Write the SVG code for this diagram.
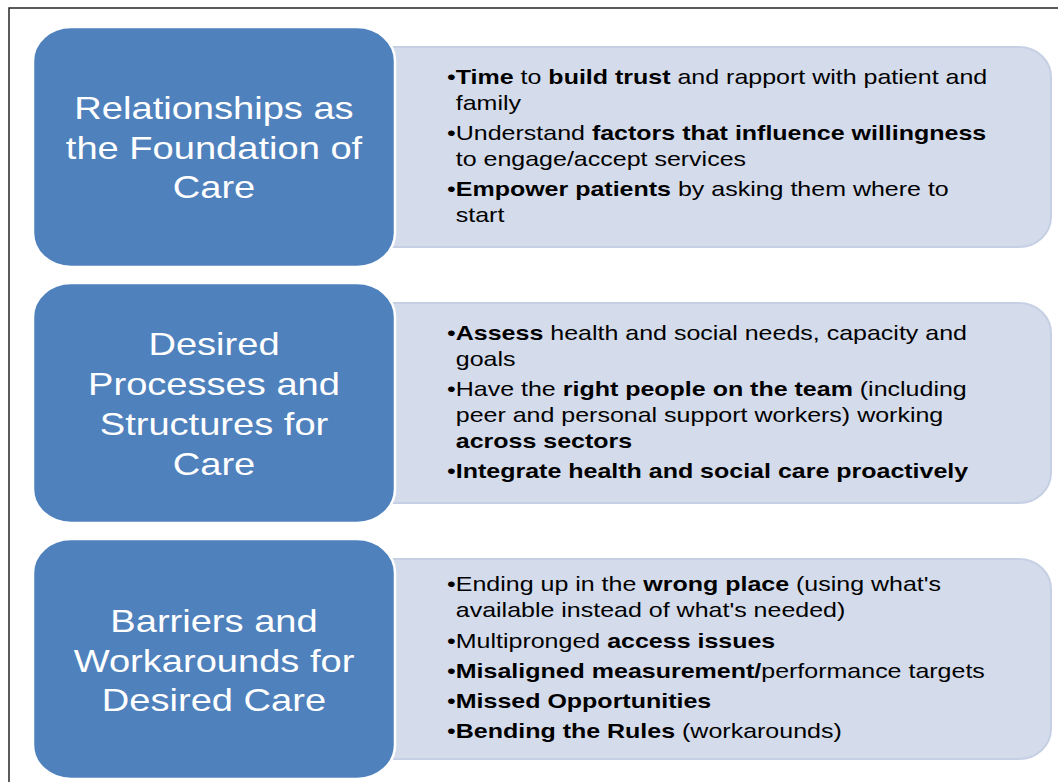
<svg xmlns="http://www.w3.org/2000/svg" width="1058" height="782" viewBox="0 0 1058 782">
  <style>
    .frame { fill: none; stroke: #262626; stroke-width: 1.5; }
    .box { fill: #4f81bd; stroke: #ffffff; stroke-width: 2.5; }
    .panel { fill: #d4dbea; stroke: #c6d0e5; stroke-width: 2; }
    .title { font-family: "Liberation Sans", Arial, sans-serif; font-size: 32px; fill: #ffffff; text-anchor: middle; }
    .item { font-family: "Liberation Sans", Arial, sans-serif; font-size: 21px; fill: #000000; }
    .b { font-weight: bold; }
  </style>
  <rect x="0" y="0" width="1058" height="782" fill="#ffffff"/>
  <path class="frame" d="M9,782 V8 H1058"/>

  <g id="connectors"></g>

  <g id="panel1">
    <path class="panel" d="M380,47 H1019 A32,30 0 0 1 1051,77 V217 A32,30 0 0 1 1019,247 H380 Z"/>
    <g transform="translate(447,0) scale(1.19,1)">
      <text class="item" x="0" y="84">•<tspan class="b">Time</tspan> to <tspan class="b">build trust</tspan> and rapport with patient and</text>
      <text class="item" x="7.35" y="110">family</text>
      <text class="item" x="0" y="140">•Understand <tspan class="b">factors that influence willingness</tspan></text>
      <text class="item" x="7.35" y="166">to engage/accept services</text>
      <text class="item" x="0" y="196">•<tspan class="b">Empower patients</tspan> by asking them where to</text>
      <text class="item" x="7.35" y="222">start</text>
    </g>
  </g>

  <g id="panel2">
    <path class="panel" d="M380,303 H1019 A32,30 0 0 1 1051,333 V473 A32,30 0 0 1 1019,503 H380 Z"/>
    <g transform="translate(447,0) scale(1.19,1)">
      <text class="item" x="0" y="340">•<tspan class="b">Assess</tspan> health and social needs, capacity and</text>
      <text class="item" x="7.35" y="366">goals</text>
      <text class="item" x="0" y="396">•Have the <tspan class="b">right people on the team</tspan> (including</text>
      <text class="item" x="7.35" y="422">peer and personal support workers) working</text>
      <text class="item b" x="7.35" y="448">across sectors</text>
      <text class="item" x="0" y="478">•<tspan class="b">Integrate health and social care proactively</tspan></text>
    </g>
  </g>

  <g id="panel3">
    <path class="panel" d="M380,559 H1019 A32,30 0 0 1 1051,589 V729 A32,30 0 0 1 1019,759 H380 Z"/>
    <g transform="translate(447,0) scale(1.19,1)">
      <text class="item" x="0" y="591">•Ending up in the <tspan class="b">wrong place</tspan> (using what's</text>
      <text class="item" x="7.35" y="617">available instead of what's needed)</text>
      <text class="item" x="0" y="648">•Multipronged <tspan class="b">access issues</tspan></text>
      <text class="item" x="0" y="678">•<tspan class="b">Misaligned measurement/</tspan>performance targets</text>
      <text class="item" x="0" y="708">•<tspan class="b">Missed Opportunities</tspan></text>
      <text class="item" x="0" y="738">•<tspan class="b">Bending the Rules</tspan> (workarounds)</text>
    </g>
  </g>

  <g id="box1">
    <rect class="box" x="33" y="27" width="362" height="240" rx="38" ry="34"/>
    <g transform="translate(214,0) scale(1.19,1)">
      <text class="title" x="0" y="119">Relationships as</text>
      <text class="title" x="0" y="159">the Foundation of</text>
      <text class="title" x="0" y="198">Care</text>
    </g>
  </g>

  <g id="box2">
    <rect class="box" x="33" y="283" width="362" height="240" rx="38" ry="34"/>
    <g transform="translate(214,0) scale(1.19,1)">
      <text class="title" x="0" y="355">Desired</text>
      <text class="title" x="0" y="395">Processes and</text>
      <text class="title" x="0" y="435">Structures for</text>
      <text class="title" x="0" y="475">Care</text>
    </g>
  </g>

  <g id="box3">
    <rect class="box" x="33" y="539" width="362" height="240" rx="38" ry="34"/>
    <g transform="translate(214,0) scale(1.19,1)">
      <text class="title" x="0" y="632">Barriers and</text>
      <text class="title" x="0" y="672">Workarounds for</text>
      <text class="title" x="0" y="711">Desired Care</text>
    </g>
  </g>
</svg>
